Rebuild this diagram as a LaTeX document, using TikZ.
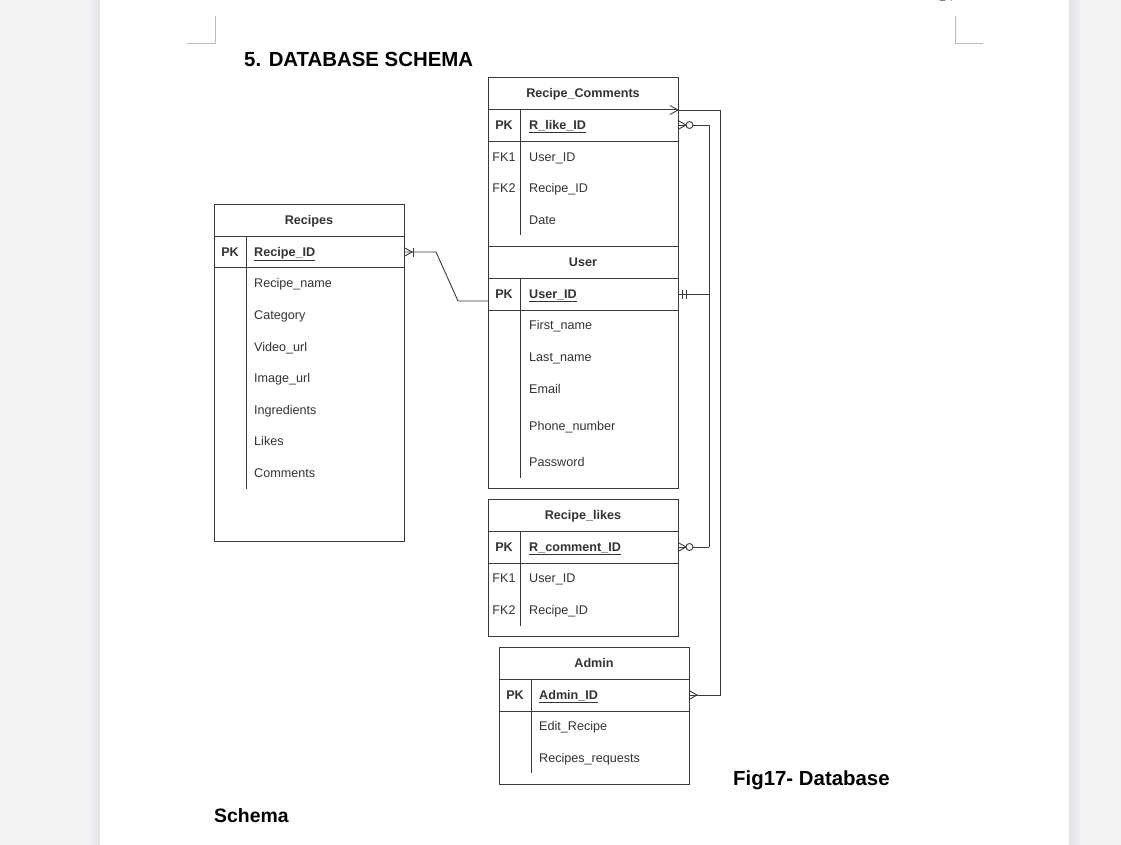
\documentclass[tikz,border=0pt]{standalone}
\usepackage{fontspec}
\usetikzlibrary{calc}
\setmainfont{Liberation Sans}
\definecolor{linec}{HTML}{3A3A3A}
\definecolor{txtc}{HTML}{333333}
\definecolor{sidegrey}{HTML}{F3F3F5}
\definecolor{shadowgrey}{HTML}{E2E2E6}
\definecolor{markgrey}{HTML}{BDBDBD}
\begin{document}
\begin{tikzpicture}[x=1pt,y=-1pt,
  tbl/.style={draw=linec, line width=0.9pt, fill=white, anchor=north west, inner sep=0pt},
  tline/.style={draw=linec, line width=0.9pt},
  conn/.style={draw=linec, line width=0.9pt},
  ttl/.style={font=\fontsize{12.6}{14}\selectfont\bfseries, text=txtc, anchor=base, inner sep=0pt},
  fld/.style={font=\fontsize{12.6}{14}\selectfont, text=txtc, anchor=base west, inner sep=0pt},
  pkfld/.style={font=\fontsize{12.6}{14}\selectfont\bfseries, text=txtc, anchor=base west, inner sep=0pt},
  keylab/.style={font=\fontsize{12.6}{14}\selectfont, text=txtc, anchor=base, inner sep=0pt},
  pklab/.style={font=\fontsize{12.6}{14}\selectfont\bfseries, text=txtc, anchor=base, inner sep=0pt},
  hand/.style={font=\fontsize{20.4}{24}\selectfont\bfseries, text=black, anchor=base west, inner sep=0pt}
]
\useasboundingbox (0,0) rectangle (1121,845);
% page background
\fill[sidegrey] (0,0) rectangle (100,845);
\shade[left color=sidegrey, right color=shadowgrey] (88,0) rectangle (100,845);
\fill[white] (100,0) rectangle (1069,845);
\fill[sidegrey] (1069,0) rectangle (1121,845);
\shade[left color=shadowgrey, right color=sidegrey] (1069,0) rectangle (1081,845);
% corner marks
\draw[markgrey, line width=0.8pt] (215,16) -- (215,43) -- (187,43);
\draw[markgrey, line width=0.8pt] (955,16) -- (955,43) -- (983,43);
\node[font=\fontsize{13}{15}\selectfont, text=gray, anchor=base, inner sep=0pt] (pageno) at (946,2) {14};

% heading and caption
\node[hand] (heading) at (244,67) {5. DATABASE SCHEMA};
\node[hand] (figcap) at (733,785) {Fig17- Database};
\node[hand, font=\fontsize{19.4}{24}\selectfont\bfseries] (schema) at (214,822) {Schema};

% ---------------- Recipes ----------------
\node[tbl, minimum width=190pt, minimum height=337pt] (recipes) at (214,204) {};
\draw[tline] (214,236) -- (404,236);
\draw[tline] (214,267) -- (404,267);
\draw[tline] (246,236) -- (246,489);
\node[ttl] (recipes-t) at (309,224.5) {Recipes};
\node[pklab] (recipes-pkl) at (230,256.5) {PK};
\node[pkfld] (recipes-pk) at (254,256.5) {\underline{Recipe\_ID}};
\node[fld] (recipes-f1) at (254,287.5) {Recipe\_name};
\node[fld] (recipes-f2) at (254,319.5) {Category};
\node[fld] (recipes-f3) at (254,351.5) {Video\_url};
\node[fld] (recipes-f4) at (254,382.5) {Image\_url};
\node[fld] (recipes-f5) at (254,414.5) {Ingredients};
\node[fld] (recipes-f6) at (254,445.5) {Likes};
\node[fld] (recipes-f7) at (254,477.5) {Comments};

% ---------------- Recipe_Comments ----------------
\node[tbl, minimum width=190pt, minimum height=169pt] (rcomm) at (488,77) {};
\draw[tline] (488,109) -- (678,109);
\draw[tline] (488,141) -- (678,141);
\draw[tline] (520,109) -- (520,235);
\node[ttl] (rcomm-t) at (583,97.5) {Recipe\_Comments};
\node[pklab] (rcomm-pkl) at (504,129.5) {PK};
\node[pkfld] (rcomm-pk) at (529,129.5) {\underline{R\_like\_ID}};
\node[keylab] (rcomm-fk1) at (504,161.5) {FK1};
\node[fld] (rcomm-f1) at (529,161.5) {User\_ID};
\node[keylab] (rcomm-fk2) at (504,192.5) {FK2};
\node[fld] (rcomm-f2) at (529,192.5) {Recipe\_ID};
\node[fld] (rcomm-f3) at (529,224.5) {Date};

% ---------------- User ----------------
\node[tbl, minimum width=190pt, minimum height=242pt] (user) at (488,246) {};
\draw[tline] (488,278) -- (678,278);
\draw[tline] (488,310) -- (678,310);
\draw[tline] (520,278) -- (520,478);
\node[ttl] (user-t) at (583,266.5) {User};
\node[pklab] (user-pkl) at (504,298.5) {PK};
\node[pkfld] (user-pk) at (529,298.5) {\underline{User\_ID}};
\node[fld] (user-f1) at (529,329.5) {First\_name};
\node[fld] (user-f2) at (529,361.5) {Last\_name};
\node[fld] (user-f3) at (529,393.5) {Email};
\node[fld] (user-f4) at (529,430.5) {Phone\_number};
\node[fld] (user-f5) at (529,466.5) {Password};

% ---------------- Recipe_likes ----------------
\node[tbl, minimum width=190pt, minimum height=137pt] (rlikes) at (488,499) {};
\draw[tline] (488,531) -- (678,531);
\draw[tline] (488,563) -- (678,563);
\draw[tline] (520,531) -- (520,626);
\node[ttl] (rlikes-t) at (583,519.5) {Recipe\_likes};
\node[pklab] (rlikes-pkl) at (504,551.5) {PK};
\node[pkfld] (rlikes-pk) at (529,551.5) {\underline{R\_comment\_ID}};
\node[keylab] (rlikes-fk1) at (504,582.5) {FK1};
\node[fld] (rlikes-f1) at (529,582.5) {User\_ID};
\node[keylab] (rlikes-fk2) at (504,614.5) {FK2};
\node[fld] (rlikes-f2) at (529,614.5) {Recipe\_ID};

% ---------------- Admin ----------------
\node[tbl, minimum width=190pt, minimum height=137pt] (admin) at (499,647) {};
\draw[tline] (499,679) -- (689,679);
\draw[tline] (499,711) -- (689,711);
\draw[tline] (531,679) -- (531,773);
\node[ttl] (admin-t) at (594,667.5) {Admin};
\node[pklab] (admin-pkl) at (515,699.5) {PK};
\node[pkfld] (admin-pk) at (539,699.5) {\underline{Admin\_ID}};
\node[fld] (admin-f1) at (539,730.5) {Edit\_Recipe};
\node[fld] (admin-f2) at (539,762.5) {Recipes\_requests};

% ---------------- connectors ----------------
\coordinate (recipesE) at (404,252);
\coordinate (userW) at (488,301);
\coordinate (userE) at (678,294);
\coordinate (rcommE) at (678,125);
\coordinate (rcommH) at (678,110);
\coordinate (rlikesE) at (678,547);
\coordinate (adminE) at (689,695);
\coordinate (bendA) at (436,252);
\coordinate (bendB) at (458,301);
\coordinate (busU) at (709,294);
\coordinate (busT) at (709,125);
\coordinate (busB) at (709,547);
\coordinate (outerT) at (720,110);
\coordinate (outerB) at (720,695);

% Recipes -- User
\draw[conn] (recipesE) -- (bendA) -- (bendB) -- (userW);
\draw[conn] ($(recipesE)+(0,-4.5)$) -- ($(recipesE)+(8,0)$) -- ($(recipesE)+(0,4.5)$);
\draw[conn] ($(recipesE)+(9,-4.5)$) -- ($(recipesE)+(9,4.5)$);

% User -- Recipe_Comments / Recipe_likes
\draw[conn] (userE) -- (busU);
\draw[conn] ($(userE)+(4,-4.5)$) -- ($(userE)+(4,4.5)$);
\draw[conn] ($(userE)+(8,-4.5)$) -- ($(userE)+(8,4.5)$);
\draw[conn] (busT) -- (busB);
\draw[conn] (rcommE) -- (busT);
\draw[conn] (rlikesE) -- (busB);
\draw[conn] ($(rcommE)+(0,-4.5)$) -- ($(rcommE)+(8,0)$) -- ($(rcommE)+(0,4.5)$);
\draw[conn, fill=white] ($(rcommE)+(11.5,0)$) circle (3.5pt);
\draw[conn] ($(rlikesE)+(0,-4.5)$) -- ($(rlikesE)+(8,0)$) -- ($(rlikesE)+(0,4.5)$);
\draw[conn, fill=white] ($(rlikesE)+(11.5,0)$) circle (3.5pt);

% Recipe_Comments -- Admin
\draw[conn] (rcommH) -- (outerT) -- (outerB) -- (adminE);
\draw[conn] ($(rcommH)+(-8,-4.5)$) -- (rcommH) -- ($(rcommH)+(-8,4.5)$);
\draw[conn] ($(adminE)+(0,-4.5)$) -- ($(adminE)+(8,0)$) -- ($(adminE)+(0,4.5)$);
\end{tikzpicture}
\end{document}
